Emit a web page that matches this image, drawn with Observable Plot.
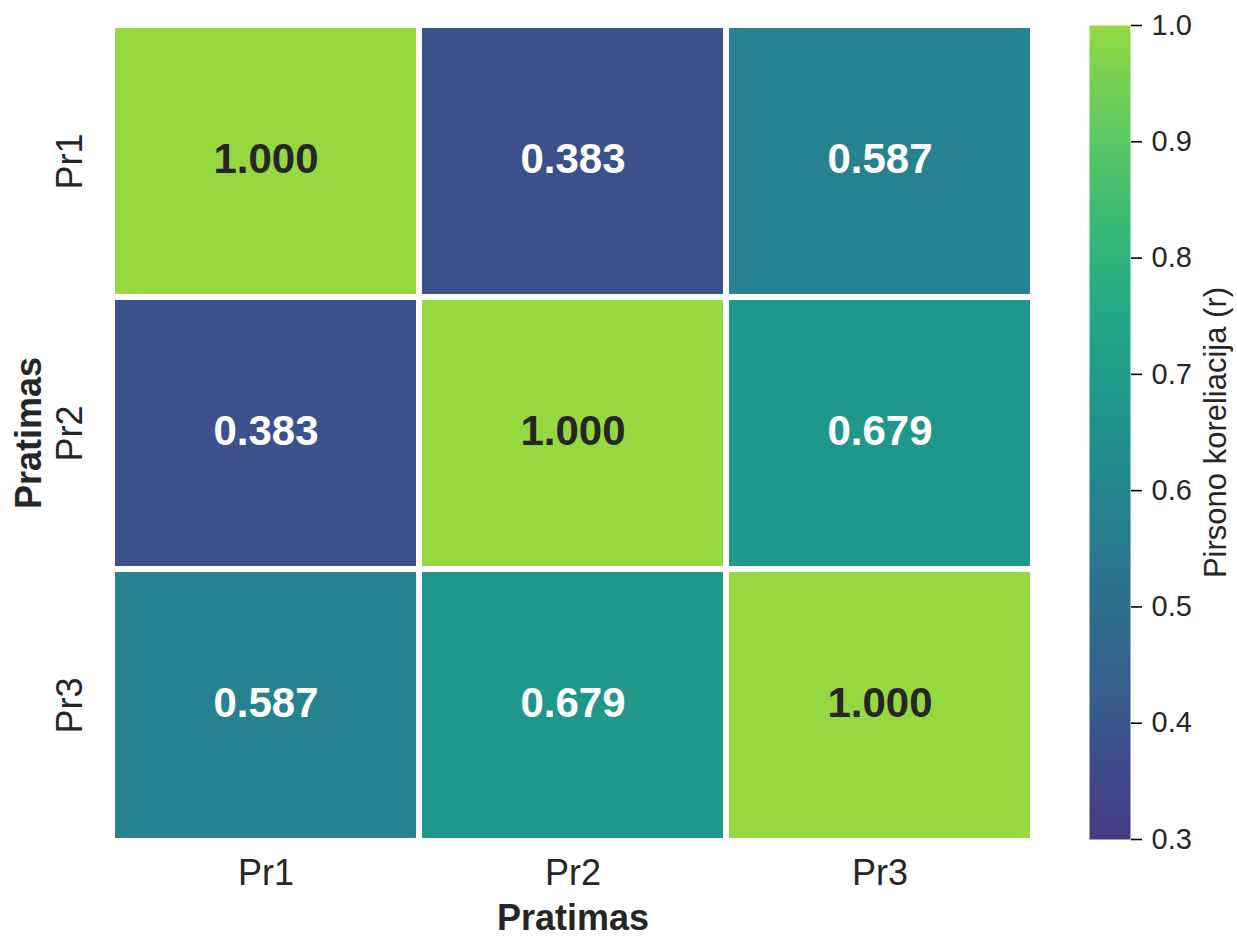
<!DOCTYPE html>
<html>
<head>
<meta charset="utf-8">
<script src="https://cdn.jsdelivr.net/npm/d3@7"></script>
<script src="https://cdn.jsdelivr.net/npm/@observablehq/plot@0.6"></script>
<style>
  html, body { margin: 0; padding: 0; background: #fff; }
  #chart { position: relative; width: 1237px; height: 936px; }
  #chart svg { position: absolute; top: 0; overflow: visible; }
  #chart g[aria-label$="axis tick label"] text,
  #chart g[aria-label$="axis label"] text { fill: #262626; }
  g[aria-label="x-axis label"] text, g[aria-label="y-axis label"] text { font-weight: bold; }
  #bar g[aria-label="y-axis label"] text { font-weight: normal; font-size: 31px; }
</style>
</head>
<body>
<div id="chart"></div>
<script>
// Correlation matrix between the three trials
const rowLabels = ["Pr1", "Pr2", "Pr3"];
const colLabels = ["Pr1", "Pr2", "Pr3"];
const correlations = [
  [1.000, 0.383, 0.587],
  [0.383, 1.000, 0.679],
  [0.587, 0.679, 1.000]
];
const colorbarTicks = [0.3, 0.4, 0.5, 0.6, 0.7, 0.8, 0.9, 1.0];
const colorDomain = [0.3, 1.0];

const cells = rowLabels.flatMap((row, i) =>
  colLabels.map((col, j) => ({row, col, r: correlations[i][j]}))
);

// viridis segment used by the colour scale
const colorScale = {
  type: "linear",
  domain: colorDomain,
  clamp: true,
  interpolate: (t) => d3.interpolateViridis(0.17 + 0.67 * t)
};

const font = "'Liberation Sans', Arial, Helvetica, sans-serif";

const heat = Plot.plot({
  width: 1062,
  height: 936,
  marginLeft: 112,
  marginRight: 29,
  marginTop: 24,
  marginBottom: 95,
  style: {fontFamily: font, fontSize: "36px", background: "transparent"},
  x: {domain: colLabels, padding: 0},
  y: {domain: rowLabels, padding: 0},
  color: colorScale,
  marks: [
    Plot.cell(cells, {x: "col", y: "row", fill: "r", inset: 3}),
    Plot.text(cells, {
      x: "col", y: "row",
      text: (d) => d.r.toFixed(3),
      fill: (d) => d.r > 0.8 ? "#262626" : "#ffffff",
      fontSize: 42, fontWeight: "bold", dy: -2
    }),
    Plot.axisX({
      tickSize: 0, tickPadding: 18, fontSize: 36,
      label: "Pratimas", labelAnchor: "center", labelOffset: 88, labelArrow: "none"
    }),
    Plot.axisY({
      tickSize: 0, tickPadding: 31, tickRotate: -90, fontSize: 36,
      label: "Pratimas", labelAnchor: "center", labelOffset: 97, labelArrow: "none"
    })
  ]
});

// colour bar with its own scale
const bar = Plot.plot({
  width: 175,
  height: 936,
  marginLeft: 27,
  marginRight: 107,
  marginTop: 25,
  marginBottom: 97,
  style: {fontFamily: font, fontSize: "29px", background: "transparent"},
  x: {domain: [0, 1], axis: null},
  y: {domain: colorDomain},
  color: colorScale,
  marks: [
    Plot.raster({
      x1: 0, x2: 1, y1: colorDomain[0], y2: colorDomain[1],
      width: 1, height: 400,
      fill: (x, y) => y,
      imageRendering: "auto"
    }),
    Plot.axisY({
      anchor: "right", ticks: colorbarTicks, tickFormat: ".1f",
      tickSize: 11, tickPadding: 10, strokeWidth: 1.6, fontSize: 29,
      label: "Pirsono koreliacija (r)", labelAnchor: "center",
      labelOffset: 95, labelArrow: "none"
    })
  ]
});
bar.id = "bar";
bar.style.left = "1062px";

const chart = document.getElementById("chart");
chart.appendChild(heat);
chart.appendChild(bar);
</script>
</body>
</html>
